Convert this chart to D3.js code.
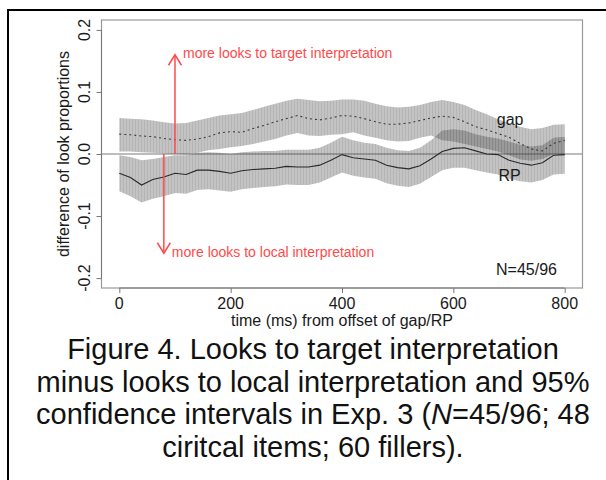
<!DOCTYPE html>
<html><head><meta charset="utf-8">
<script src="https://cdn.jsdelivr.net/npm/d3@7"></script>
<style>
body{margin:0;background:#fff}
svg{display:block}
text{font-family:"Liberation Sans",Arial,Helvetica,sans-serif}
</style>
</head><body>
<svg id="c" width="606" height="480"></svg>
<script>
// ---- data ----
const times = [0,20,40,60,80,100,120,140,160,180,200,220,240,260,280,300,320,340,360,380,400,
               420,440,460,480,500,520,540,560,580,600,620,640,660,680,700,720,740,760,780,800];
const gapMean = [0.032,0.031,0.029,0.028,0.025,0.023,0.022,0.024,0.028,0.034,0.036,0.035,0.041,0.046,0.052,0.057,0.062,0.057,0.055,0.058,0.062,
                 0.061,0.057,0.052,0.048,0.048,0.050,0.054,0.058,0.061,0.059,0.052,0.044,0.039,0.033,0.027,0.017,0.008,0.005,0.017,0.022];
const gapHi   = [0.058,0.057,0.056,0.054,0.051,0.049,0.050,0.054,0.058,0.062,0.064,0.066,0.071,0.076,0.081,0.086,0.089,0.087,0.085,0.086,0.088,
                 0.088,0.086,0.081,0.077,0.075,0.076,0.079,0.084,0.087,0.084,0.079,0.071,0.064,0.056,0.050,0.044,0.040,0.042,0.047,0.048];
const gapLo   = [0.004,0.004,0.003,0.002,0.001,0.000,-0.001,0.002,0.006,0.008,0.011,0.013,0.016,0.020,0.024,0.030,0.034,0.030,0.029,0.031,0.032,
                 0.035,0.030,0.026,0.022,0.020,0.021,0.026,0.030,0.022,0.020,0.016,0.012,0.008,0.004,-0.002,-0.009,-0.011,-0.008,0.000,-0.002];
const rpMean  = [-0.031,-0.038,-0.050,-0.041,-0.037,-0.031,-0.033,-0.026,-0.026,-0.028,-0.031,-0.027,-0.025,-0.024,-0.023,-0.020,-0.021,-0.021,-0.018,-0.010,-0.001,
                 -0.006,-0.008,-0.010,-0.018,-0.022,-0.024,-0.019,-0.008,0.004,0.009,0.010,0.005,0.000,-0.001,-0.010,-0.015,-0.018,-0.014,-0.002,-0.001];
const rpHi    = [-0.002,-0.005,-0.010,-0.008,-0.005,-0.002,-0.002,0.002,0.003,0.002,0.000,0.003,0.004,0.005,0.005,0.007,0.007,0.007,0.010,0.018,0.028,
                 0.022,0.018,0.016,0.010,0.006,0.005,0.010,0.022,0.038,0.040,0.038,0.032,0.028,0.025,0.020,0.015,0.012,0.014,0.026,0.028];
const rpLo    = [-0.060,-0.068,-0.078,-0.072,-0.068,-0.063,-0.064,-0.058,-0.057,-0.059,-0.061,-0.057,-0.055,-0.053,-0.052,-0.049,-0.050,-0.050,-0.046,-0.038,-0.030,
                 -0.035,-0.038,-0.040,-0.047,-0.051,-0.053,-0.048,-0.037,-0.026,-0.022,-0.022,-0.026,-0.030,-0.033,-0.040,-0.044,-0.046,-0.042,-0.033,-0.032];

const xTicks = [0,200,400,600,800];
const yTicks = [-0.2,-0.1,0.0,0.1,0.2];
const yTickLabels = ["-0.2","-0.1","0.0","0.1","0.2"];

const xTitle = "time (ms) from offset of gap/RP";
const yTitle = "difference of look proportions";
const seriesLabels = [{name:"gap", t:702, v:0.055}, {name:"RP", t:701, v:-0.034}];
const arrows = [{t:100, from:0, to:0.16, label:"more looks to target interpretation"},
                {t:80,  from:0, to:-0.16, label:"more looks to local interpretation"}];
const nLabel = "N=45/96";
const caption = [
  [{t:"Figure 4. Looks to target interpretation"}],
  [{t:"minus looks to local interpretation and 95%"}],
  [{t:"confidence intervals in Exp. 3 ("},{t:"N",i:true},{t:"=45/96; 48"}],
  [{t:"ciritcal items; 60 fillers)."}]
];

// ---- drawing ----
const svg = d3.select("#c");
const x = d3.scaleLinear().domain([-32, 832]).range([101.5, 582.5]);
const y = d3.scaleLinear().domain([-0.216, 0.216]).range([288, 20]);

// outer frame
svg.append("rect").attr("x",8).attr("y",10).attr("width",640).attr("height",520)
  .attr("fill","none").attr("stroke","#000").attr("stroke-width",2);

// stripe pattern for CI bands
const defs = svg.append("defs");
const pat = defs.append("pattern").attr("id","stripe").attr("patternUnits","userSpaceOnUse")
  .attr("width",3).attr("height",10);
pat.append("rect").attr("width",3).attr("height",10).attr("fill","#3c3c3c").attr("fill-opacity",0.31);
pat.append("rect").attr("width",1).attr("height",10).attr("fill","#3c3c3c").attr("fill-opacity",0.10);

// zero line
svg.append("line").attr("x1",x.range()[0]).attr("x2",x.range()[1])
  .attr("y1",y(0)).attr("y2",y(0)).attr("stroke","#7a7a7a").attr("stroke-width",1.2);

const idx = d3.range(times.length);
const area = (lo, hi) => d3.area().x(i => x(times[i])).y0(i => y(lo[i])).y1(i => y(hi[i]));
svg.append("path").datum(idx).attr("d", area(gapLo, gapHi)).attr("fill","url(#stripe)");
svg.append("path").datum(idx).attr("d", area(rpLo, rpHi)).attr("fill","url(#stripe)");

const line = (m) => d3.line().x(i => x(times[i])).y(i => y(m[i]));
svg.append("path").datum(idx).attr("d", line(gapMean)).attr("fill","none")
  .attr("stroke","#3a3a3a").attr("stroke-width",1.1).attr("stroke-dasharray","2,3");
svg.append("path").datum(idx).attr("d", line(rpMean)).attr("fill","none")
  .attr("stroke","#2a2a2a").attr("stroke-width",1.1);

// box
svg.append("rect").attr("x",x.range()[0]).attr("y",y.range()[1])
  .attr("width",x.range()[1]-x.range()[0]).attr("height",y.range()[0]-y.range()[1])
  .attr("fill","none").attr("stroke","#999").attr("stroke-width",1.2);

// axes
const gx = svg.append("g").attr("transform",`translate(0,${y.range()[0]})`)
  .call(d3.axisBottom(x).tickValues(xTicks).tickSize(5).tickSizeOuter(0).tickFormat(""));
gx.select(".domain").attr("d",`M${x(xTicks[0])},0H${x(xTicks[xTicks.length-1])}`).attr("stroke","#777");
gx.selectAll(".tick line").attr("stroke","#777");
svg.selectAll(".xlab").data(xTicks).enter().append("text")
  .attr("x", d => x(d)).attr("y", 308.5).attr("text-anchor","middle")
  .attr("font-size",16).attr("fill","#1a1a1a").text(d => d);

const gy = svg.append("g").attr("transform",`translate(${x.range()[0]},0)`)
  .call(d3.axisLeft(y).tickValues(yTicks).tickSize(5).tickSizeOuter(0).tickFormat(""));
gy.select(".domain").attr("d",`M0,${y(yTicks[0])}V${y(yTicks[yTicks.length-1])}`).attr("stroke","#777");
gy.selectAll(".tick line").attr("stroke","#777");
svg.selectAll(".ylab").data(yTicks).enter().append("text")
  .attr("transform",(d) => `translate(89.5,${y(d)}) rotate(-90)`)
  .attr("text-anchor","middle").attr("font-size",16).attr("fill","#1a1a1a")
  .text((d,i) => yTickLabels[i]);

// axis titles
svg.append("text").attr("x",(x(0)+x(800))/2).attr("y",326).attr("text-anchor","middle")
  .attr("font-size",16).attr("fill","#1a1a1a").text(xTitle);
svg.append("text").attr("transform",`translate(68.5,${y(0)}) rotate(-90)`)
  .attr("text-anchor","middle").attr("font-size",16).attr("fill","#1a1a1a").text(yTitle);

// arrows
const red = "#ff4a4a";
arrows.forEach(a => {
  const ax = x(a.t), y0 = y(a.from), y1 = y(a.to), dir = a.to > a.from ? 1 : -1;
  svg.append("line").attr("x1",ax).attr("x2",ax).attr("y1",y0).attr("y2",y1)
    .attr("stroke",red).attr("stroke-width",1.5);
  svg.append("path").attr("d",`M${ax-6.5},${y1+dir*10.5}L${ax},${y1}L${ax+6.5},${y1+dir*10.5}`)
    .attr("fill","none").attr("stroke",red).attr("stroke-width",1.5);
  svg.append("text").attr("x",ax+8).attr("y",y1 + 3.5)
    .attr("font-size",14).attr("fill",red).text(a.label);
});

// series labels
seriesLabels.forEach(s => {
  svg.append("text").attr("x",x(s.t)).attr("y",y(s.v)).attr("text-anchor","middle")
    .attr("dominant-baseline","central").attr("font-size",16).attr("fill","#1a1a1a").text(s.name);
});
svg.append("text").attr("x",557).attr("y",275).attr("text-anchor","end")
  .attr("font-size",16).attr("fill","#1a1a1a").text(nLabel);

// caption
caption.forEach((segs, li) => {
  const t = svg.append("text").attr("x",313).attr("y",359 + li*32.5).attr("text-anchor","middle")
    .attr("font-size",29).attr("fill","#111");
  segs.forEach(s => { const ts = t.append("tspan").text(s.t); if (s.i) ts.attr("font-style","italic"); });
});
</script>
</body></html>
